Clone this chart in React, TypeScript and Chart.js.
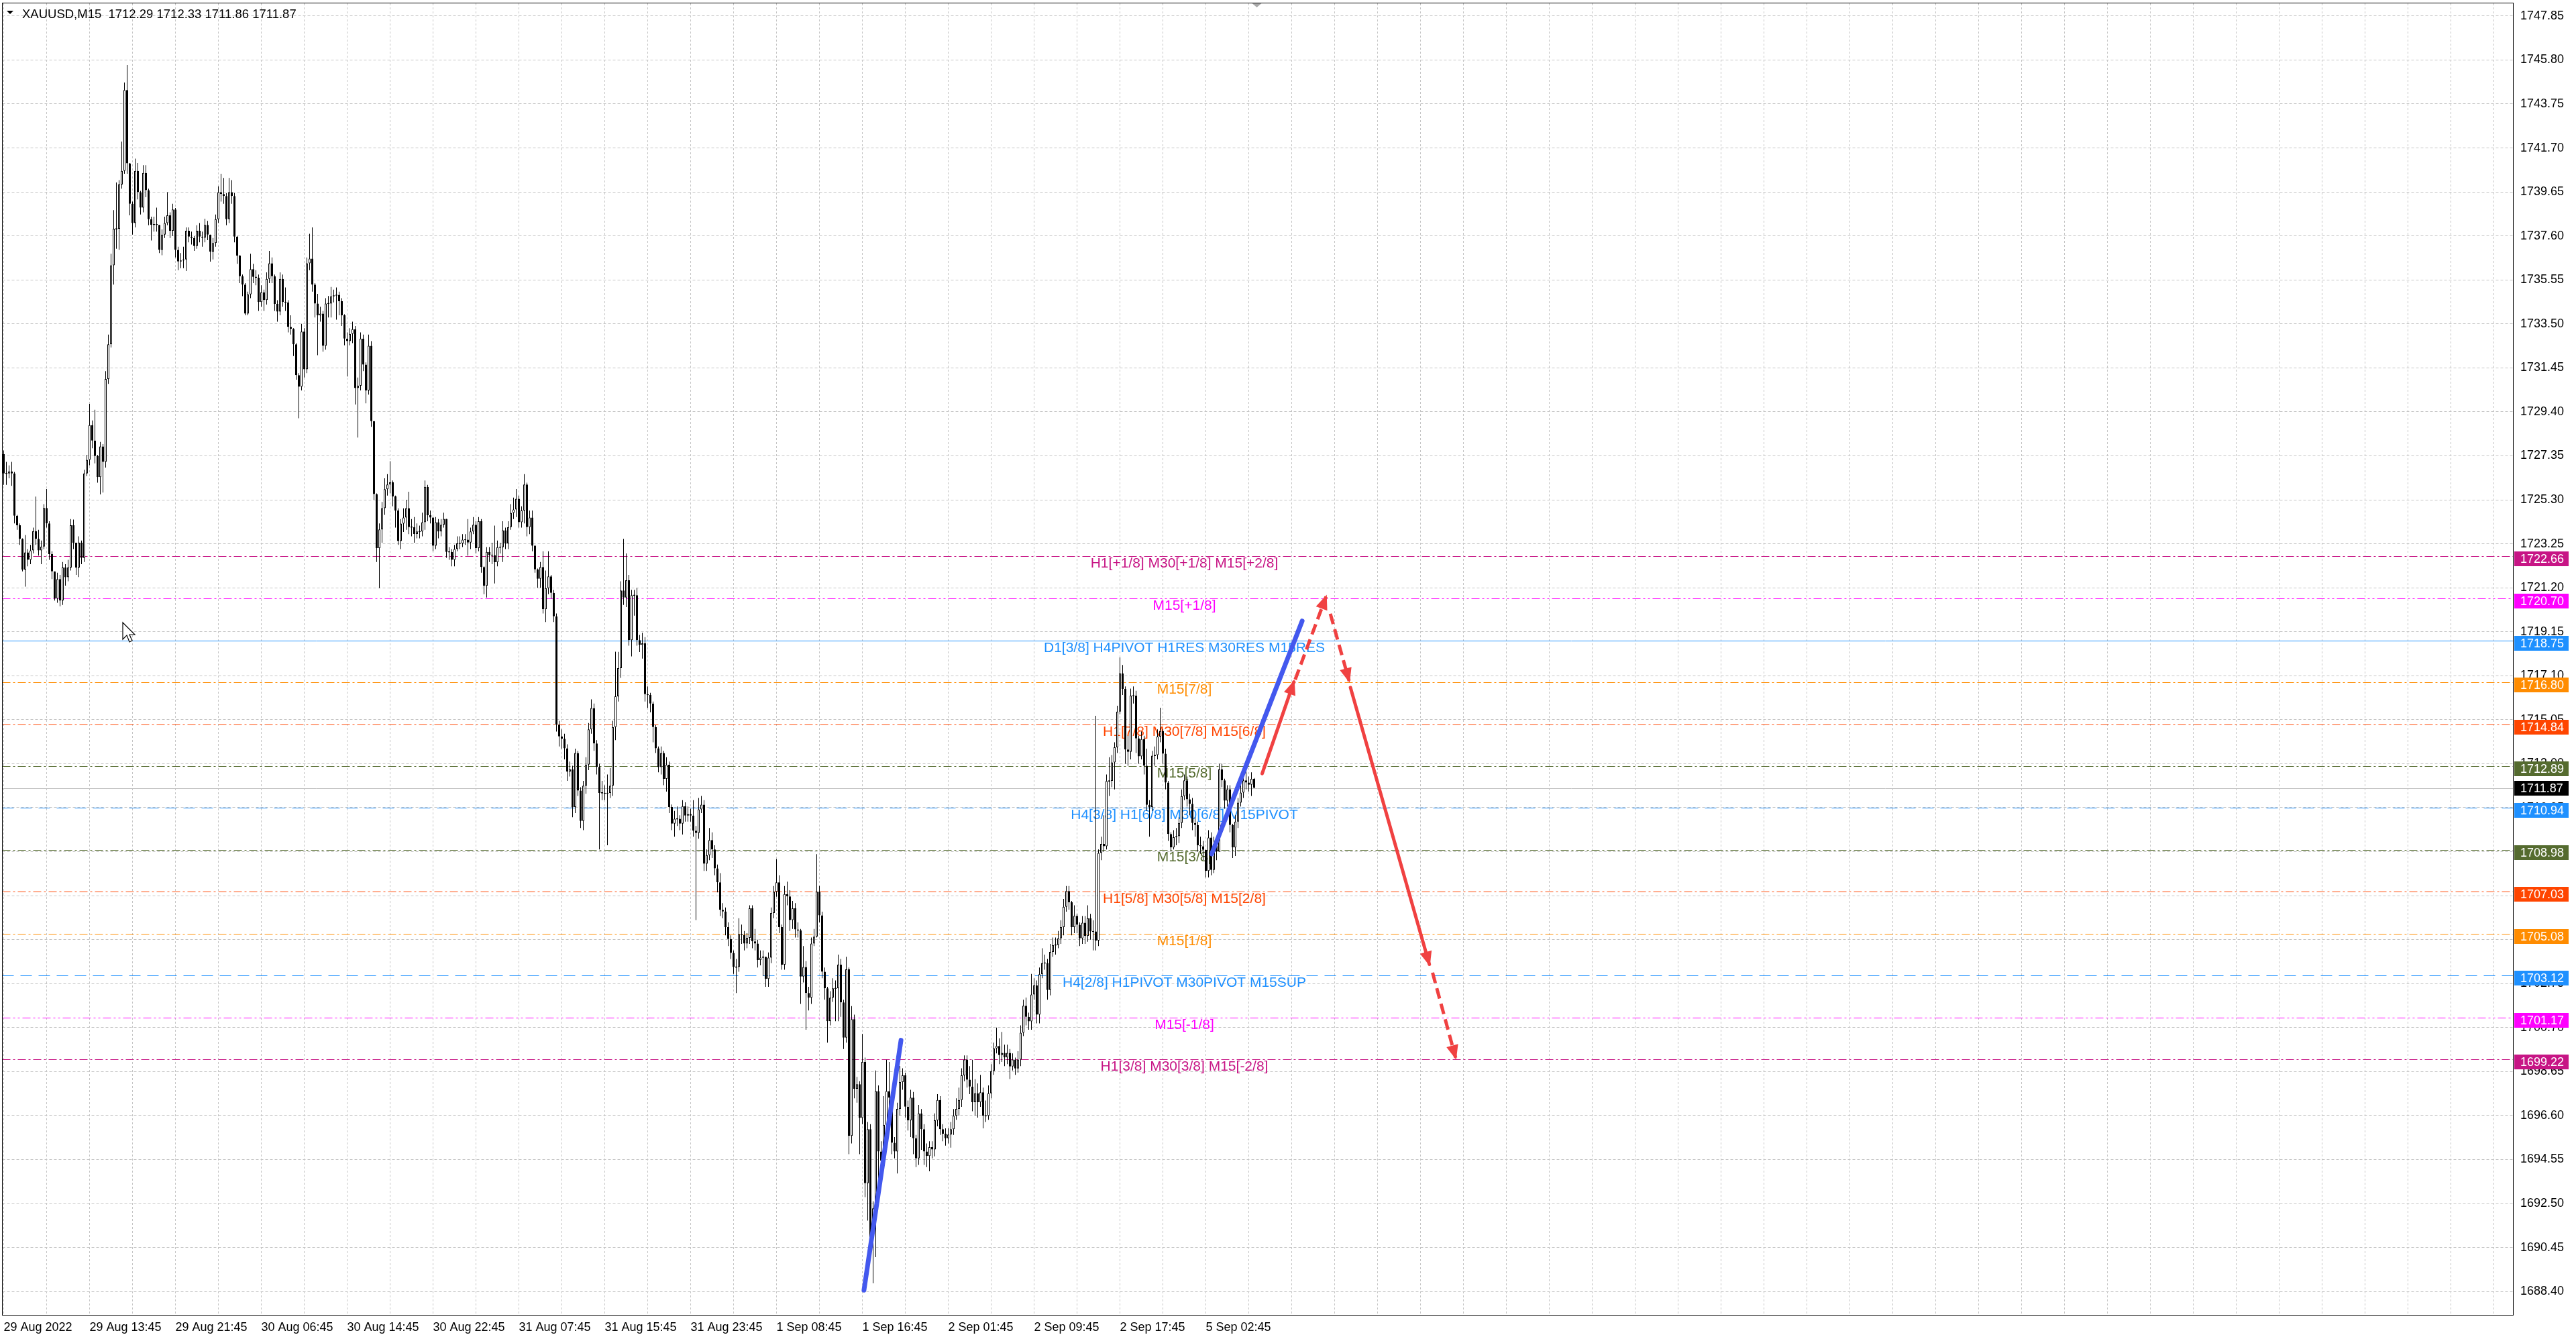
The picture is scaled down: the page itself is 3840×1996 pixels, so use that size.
import React, { useEffect, useRef } from 'react';
import { Chart, registerables } from 'chart.js';

Chart.register(...registerables);

const FONT = '"Liberation Sans", Arial, sans-serif';

// ---------- price data (XAUUSD M15) ----------
const firstOpen = 1727.43;
const closes: number[] = [
  1726.53,1726.53,1726.62,1726.53,1724.56,1724.11,1723.48,1722.05,1722.85,1722.50,
  1722.94,1723.84,1723.48,1722.94,1723.12,1724.92,1724.20,1722.77,1721.96,1720.70,
  1721.60,1720.61,1722.14,1721.69,1722.14,1724.11,1723.30,1722.14,1723.30,1722.59,
  1726.53,1727.16,1728.78,1728.06,1727.34,1726.36,1727.79,1727.07,1730.93,1732.55,
  1736.23,1737.93,1737.93,1740.00,1740.63,1744.40,1740.98,1739.10,1738.20,1740.63,
  1739.64,1738.92,1740.54,1739.73,1738.38,1738.11,1738.15,1738.11,1736.95,1737.66,
  1738.20,1738.56,1737.84,1738.83,1736.95,1736.41,1736.46,1736.50,1737.84,1737.57,
  1737.50,1737.13,1737.84,1737.57,1737.52,1738.11,1737.66,1736.86,1737.27,1738.38,
  1739.64,1739.55,1739.46,1738.38,1739.64,1739.46,1737.57,1736.68,1735.72,1735.33,
  1733.98,1734.88,1736.05,1735.69,1735.65,1734.52,1734.97,1734.61,1735.60,1736.32,
  1735.72,1734.43,1734.07,1735.60,1734.52,1734.50,1733.36,1733.27,1732.55,1731.11,
  1730.57,1733.14,1731.38,1736.32,1736.54,1735.33,1734.45,1733.90,1733.98,
  1732.48,1734.45,1734.45,1734.78,1734.83,1734.85,1734.56,1733.90,1732.81,1732.70,
  1733.03,1733.25,1730.51,1730.62,1732.81,1731.60,1730.40,1732.48,1728.97,1725.57,
  1723.05,1723.92,1724.91,1725.79,1726.01,1726.12,1725.46,1724.80,1723.38,1724.19,
  1724.47,1724.91,1724.03,1724.03,1723.71,1723.82,1723.82,1724.25,1725.90,1724.58,
  1724.47,1723.16,1724.25,1723.82,1724.14,1724.41,1722.87,1722.87,1722.50,1723.00,
  1723.27,1723.27,1723.44,1723.44,1723.31,1723.82,1724.14,1723.05,1724.30,1722.17,
  1721.29,1722.87,1722.72,1722.72,1722.39,1723.09,1723.09,1723.88,1723.27,1724.03,
  1724.69,1724.85,1725.35,1724.25,1724.80,1726.01,1724.03,1724.47,1723.16,1722.06,
  1721.62,1722.17,1720.20,1721.18,1721.73,1720.96,1719.87,1714.82,1714.27,1714.16,
  1713.72,1712.63,1712.74,1710.98,1713.50,1711.75,1710.33,1711.97,1712.96,1714.60,
  1715.59,1713.94,1712.85,1711.64,1711.64,1711.60,
  1711.64,1711.97,1714.71,1716.14,
  1717.45,1721.07,1720.74,1721.55,1718.76,1720.85,1720.85,1718.76,1718.54,1718.61,
  1716.24,1716.20,1715.80,1714.71,1713.72,1712.84,1713.50,1712.29,1712.95,1710.98,
  1710.21,1710.43,1710.43,1710.21,1711.02,1710.58,1710.65,1710.58,1709.88,1709.77,
  1710.87,1711.09,1708.34,1708.74,1709.44,1709.00,1708.12,1707.47,1706.19,1706.11,
  1705.38,1704.83,1704.18,1703.52,1703.52,1705.05,1705.01,1704.62,1704.88,1706.26,
  1704.72,1704.62,1703.85,1703.96,1704.00,1702.97,1703.96,1706.04,1707.03,1707.47,
  1705.38,1703.63,1706.92,1706.81,1705.71,1706.26,1705.27,1705.23,1703.08,1703.52,
  1702.31,1702.09,1704.62,1704.94,1707.03,1705.93,1703.30,1702.53,1701.00,1702.09,
  1702.53,1702.53,1703.63,1701.87,1700.23,1703.41,
  1695.65,1701.09,1697.85,1698.06,1696.49,1699.10,1693.45,1695.96,1690.90,1692.27,
  1697.74,1694.92,1694.50,1696.17,1697.74,1697.43,1695.33,1694.92,1696.91,1698.16,
  1698.47,1697.01,1696.38,1697.43,1695.54,1694.60,1696.70,1695.96,1694.92,1694.71,
  1695.13,1695.02,1696.38,1697.32,1695.96,1695.75,1695.54,1695.71,1695.96,1696.59,
  1696.91,1697.32,1698.47,1699.21,1698.27,1697.95,1697.22,1697.64,1697.22,1697.68,
  1696.59,1696.59,1697.64,1698.68,1699.73,1699.84,1699.42,1699.52,1699.31,1699.52,
  1698.89,1699.21,1698.79,1699.21,1700.46,1701.72,1701.20,1700.99,1702.24,1702.66,
  1701.30,1703.19,1703.71,1703.71,1702.45,1704.23,1704.55,1704.55,1704.86,1705.38,
  1706.33,1707.06,1706.54,1705.38,1705.91,1705.49,1704.86,1705.59,1704.97,1705.80,
  1705.18,1705.18,1704.76,
  1708.84,1709.26,1709.15,1712.19,1712.20,1713.06,1713.76,1715.43,1717.21,1716.48,
  1713.66,1713.55,1716.17,1716.17,1714.18,1713.34,1714.15,1712.90,1711.08,1710.97,
  1713.37,1713.40,1714.26,1714.52,1713.47,1712.12,1709.72,1709.10,1709.57,1709.62,
  1710.24,1711.49,1712.22,1711.34,1711.13,1710.24,1710.14,1709.20,1709.15,1708.99,
  1708.00,1709.56,1708.05,1709.25,1708.90,
  1712.74,1712.22,1711.28,1711.81,1710.14,1709.10,1710.30,1711.18,1711.65,1712.22,
  1712.12,1712.02,1712.29,1711.87,
];
const highs: number[] = [
  1727.60,1727.07,1726.90,1727.07,1726.60,1724.60,1724.20,1723.50,1723.66,1723.00,
  1723.20,1724.00,1725.45,1723.90,1723.40,1725.10,1725.80,1724.30,1722.90,1721.90,
  1721.90,1721.80,1722.40,1722.30,1722.50,1724.40,1724.38,1723.30,1723.60,1723.40,
  1726.70,1727.40,1729.77,1729.00,1729.50,1727.40,1728.00,1727.90,1731.30,1733.00,
  1736.77,1738.80,1740.09,1740.20,1742.00,1744.75,1745.56,1741.00,1739.20,1741.20,
  1741.00,1739.70,1740.90,1740.90,1739.80,1738.50,1738.50,1738.92,1738.10,1737.90,
  1738.50,1739.64,1738.70,1739.10,1738.90,1737.10,1736.80,1737.10,1738.00,1738.00,
  1737.80,1737.60,1738.10,1738.20,1737.80,1738.40,1738.30,1737.60,1737.50,1738.60,
  1739.91,1740.50,1740.30,1739.60,1740.30,1740.20,1739.60,1737.60,1736.70,1735.80,
  1735.40,1735.00,1736.77,1736.30,1736.00,1735.80,1735.30,1735.10,1735.90,1736.90,
  1736.60,1735.80,1734.60,1735.90,1735.80,1735.20,1734.60,1733.90,1733.30,1732.60,
  1731.20,1733.50,1733.30,1736.60,1737.70,1738.00,1735.40,1734.90,1734.30,
  1734.10,1734.70,1734.80,1735.22,1735.10,1735.20,1735.00,1734.70,1733.95,1733.10,
  1733.30,1733.60,1733.40,1731.00,1733.10,1733.00,1731.70,1733.00,1732.70,1728.90,
  1725.60,1724.20,1725.20,1726.30,1726.50,1727.10,1726.20,1725.50,1724.90,1724.40,
  1724.90,1725.30,1725.68,1724.40,1724.50,1724.20,1724.10,1724.70,1726.20,1726.00,
  1724.80,1724.50,1724.50,1724.40,1724.40,1724.70,1723.30,1723.10,1723.00,1723.20,
  1723.60,1723.60,1723.70,1723.70,1724.40,1724.00,1724.50,1724.30,1724.50,1724.40,
  1722.20,1723.10,1723.10,1723.30,1724.10,1723.40,1723.30,1724.30,1724.00,1724.30,
  1725.10,1725.40,1725.80,1725.50,1725.00,1726.50,1726.10,1724.80,1724.80,1723.20,
  1722.10,1722.40,1722.90,1722.00,1722.90,1721.80,1721.10,1720.00,1715.00,1714.60,
  1714.40,1713.90,1713.10,1712.90,1713.70,1713.60,1711.90,1712.20,1713.30,1714.90,
  1716.00,1715.80,1714.10,1713.00,1712.20,1712.00,
  1712.50,1712.80,1715.00,1718.22,
  1718.21,1721.50,1723.48,1722.80,1721.80,1721.10,1721.10,1721.20,1719.00,1719.10,
  1718.90,1716.60,1716.30,1715.90,1714.80,1713.80,1713.80,1713.60,1713.30,1713.10,
  1711.10,1710.80,1711.00,1710.60,1711.30,1711.20,1711.00,1710.90,1711.30,1710.10,
  1711.40,1711.50,1711.30,1709.00,1710.00,1709.80,1709.20,1708.30,1707.90,1706.50,
  1706.30,1705.60,1705.00,1704.30,1703.90,1705.80,1705.50,1705.20,1705.10,1706.40,
  1706.40,1705.30,1704.80,1704.30,1704.30,1703.60,1704.20,1706.30,1707.30,1708.56,
  1707.80,1705.50,1707.30,1707.50,1707.10,1706.60,1706.50,1705.60,1705.30,1704.50,
  1703.80,1702.60,1704.90,1705.30,1708.78,1707.30,1706.10,1703.50,1702.60,1702.40,
  1703.00,1702.90,1704.10,1703.90,1702.00,1704.00,
  1703.50,1701.70,1701.30,1698.40,1698.20,1700.40,1699.30,1696.30,1696.20,1692.60,
  1698.70,1698.00,1695.40,1697.50,1699.20,1699.10,1697.60,1695.60,1697.20,1698.90,
  1698.80,1698.60,1697.30,1697.80,1697.70,1695.70,1697.10,1696.90,1696.20,1695.30,
  1695.40,1695.40,1696.70,1697.60,1697.50,1696.20,1696.00,1696.00,1696.30,1696.90,
  1697.40,1697.90,1698.80,1699.40,1699.40,1698.90,1699.20,1698.30,1698.10,1698.50,
  1697.90,1697.30,1698.00,1699.00,1700.00,1700.70,1700.20,1700.50,1699.90,1699.90,
  1699.70,1699.50,1699.30,1699.60,1700.80,1702.00,1702.10,1701.40,1703.20,1703.00,
  1702.90,1703.50,1704.40,1704.10,1703.90,1704.60,1704.90,1704.90,1705.20,1705.70,
  1706.70,1707.30,1707.30,1706.60,1706.40,1706.00,1705.60,1705.90,1705.90,1706.40,
  1706.00,1705.70,1715.23,
  1709.00,1709.60,1710.60,1712.50,1713.30,1713.40,1714.00,1715.70,1717.95,1717.60,
  1716.60,1714.30,1716.50,1716.60,1716.40,1714.30,1714.50,1714.30,1713.70,1711.30,
  1713.60,1713.80,1714.60,1715.61,1714.60,1713.70,1712.20,1709.80,1709.90,1710.00,
  1710.50,1711.80,1712.50,1712.40,1711.60,1711.40,1710.50,1710.30,1709.60,1709.40,
  1708.90,1709.90,1709.80,1709.60,1709.40,
  1713.00,1713.00,1712.30,1712.00,1712.00,1710.20,1710.60,1711.40,1712.00,1712.60,
  1712.80,1712.40,1712.60,1712.33,
];
const lows: number[] = [
  1726.00,1726.00,1726.30,1725.95,1724.20,1723.90,1723.20,1721.96,1721.25,1722.20,
  1722.30,1722.80,1723.20,1722.70,1722.30,1723.00,1724.00,1722.50,1721.60,1720.60,
  1720.50,1720.34,1720.40,1721.30,1721.50,1722.00,1723.00,1721.80,1721.70,1722.30,
  1722.40,1726.40,1726.90,1727.70,1727.00,1726.10,1725.55,1725.64,1726.80,1730.70,
  1732.40,1735.33,1737.00,1736.95,1739.80,1740.50,1740.50,1738.56,1737.66,1738.00,
  1739.30,1738.60,1738.70,1739.40,1738.10,1737.39,1737.80,1737.80,1736.80,1736.70,
  1737.50,1738.10,1737.50,1737.60,1736.60,1736.00,1736.10,1736.10,1735.96,1737.30,
  1737.20,1736.90,1737.00,1737.30,1737.10,1737.30,1737.40,1736.40,1736.50,1737.10,
  1738.20,1739.20,1739.10,1738.10,1738.20,1739.10,1737.30,1736.30,1735.40,1734.79,
  1733.90,1733.90,1734.70,1735.40,1735.30,1734.10,1734.30,1734.10,1734.40,1735.40,
  1735.40,1734.10,1733.60,1733.90,1734.30,1734.10,1733.10,1733.00,1732.00,1730.90,
  1729.10,1730.40,1731.00,1731.20,1736.00,1735.00,1733.80,1732.04,1733.60,
  1732.20,1732.30,1733.80,1733.80,1734.50,1733.70,1733.90,1733.40,1732.50,1731.05,
  1732.50,1732.60,1729.74,1728.20,1730.40,1731.30,1729.80,1730.20,1728.70,1725.30,
  1722.40,1721.18,1723.30,1724.60,1725.50,1725.60,1725.00,1724.00,1723.20,1723.00,
  1723.80,1723.90,1723.70,1723.60,1723.30,1723.50,1723.50,1723.60,1723.90,1724.30,
  1724.20,1722.90,1723.00,1723.50,1723.60,1724.00,1722.60,1722.50,1722.20,1722.20,
  1722.90,1723.00,1723.10,1723.20,1722.70,1723.00,1723.70,1722.80,1722.90,1721.90,
  1720.90,1720.74,1722.40,1722.30,1721.40,1722.20,1722.80,1722.40,1723.00,1723.00,
  1723.90,1724.40,1724.50,1724.00,1724.00,1724.20,1723.60,1723.70,1722.90,1721.90,
  1721.20,1721.20,1720.00,1719.60,1720.90,1720.70,1719.60,1714.50,1713.80,1713.70,
  1713.20,1712.20,1712.40,1710.50,1710.70,1711.50,1710.00,1709.90,1711.60,1712.70,
  1714.40,1713.60,1712.50,1709.00,1711.30,1711.30,
  1709.20,1711.40,1711.50,1714.10,
  1715.90,1717.00,1720.40,1720.30,1718.50,1718.00,1719.90,1718.50,1718.20,1717.90,
  1715.90,1715.60,1715.40,1714.00,1713.50,1712.60,1712.50,1712.00,1711.70,1710.70,
  1709.90,1709.60,1710.10,1709.90,1709.70,1710.30,1710.30,1710.30,1709.60,1705.71,
  1709.50,1710.70,1708.00,1708.00,1708.50,1708.60,1707.80,1707.00,1705.90,1705.80,
  1705.00,1704.50,1703.90,1703.20,1702.31,1703.30,1704.60,1704.30,1704.40,1704.60,
  1704.40,1704.30,1703.50,1703.60,1703.10,1702.60,1702.60,1703.70,1705.80,1706.80,
  1705.10,1703.40,1703.40,1706.40,1705.20,1705.30,1704.90,1704.90,1701.80,1702.80,
  1700.60,1701.50,1701.80,1704.50,1704.90,1705.60,1703.00,1702.00,1700.00,1700.80,
  1701.90,1701.00,1701.00,1701.20,1699.70,1700.00,
  1694.80,1695.30,1697.40,1697.20,1694.80,1696.20,1692.80,1691.70,1690.30,1688.78,
  1690.00,1693.00,1693.30,1694.20,1695.90,1697.00,1694.80,1694.60,1693.90,1696.60,
  1697.80,1696.50,1695.90,1695.60,1694.80,1694.20,1694.30,1695.00,1694.30,1694.20,
  1694.00,1694.60,1694.70,1696.10,1695.70,1695.40,1695.20,1695.30,1695.10,1695.70,
  1696.40,1696.60,1697.00,1698.20,1697.90,1697.60,1696.80,1696.60,1696.50,1697.00,
  1696.00,1696.30,1696.40,1697.40,1698.50,1699.50,1699.00,1699.10,1698.90,1699.00,
  1698.30,1698.70,1698.50,1698.60,1698.90,1700.30,1700.80,1700.60,1700.60,1702.00,
  1700.90,1700.90,1703.00,1703.40,1702.00,1702.20,1704.00,1704.10,1704.40,1704.60,
  1705.00,1706.10,1706.20,1705.00,1705.10,1705.10,1704.50,1704.60,1704.60,1704.70,
  1704.80,1704.30,1704.30,
  1704.50,1708.50,1708.90,1709.00,1711.50,1711.90,1711.80,1713.50,1715.30,1716.20,
  1713.00,1712.90,1713.20,1715.80,1713.50,1713.00,1713.20,1712.50,1710.80,1709.60,
  1710.80,1712.90,1713.20,1714.00,1713.00,1711.80,1709.40,1708.90,1709.00,1709.20,
  1709.30,1710.00,1711.30,1711.00,1710.60,1709.90,1709.60,1708.90,1708.80,1708.50,
  1707.70,1707.70,1707.80,1707.90,1708.50,
  1709.00,1711.90,1710.90,1711.00,1709.80,1708.60,1708.70,1710.00,1711.00,1711.40,
  1711.80,1711.70,1711.50,1711.86,
];

// ---------- axes ----------
const timeLabels = [
  '29 Aug 2022', '29 Aug 13:45', '29 Aug 21:45', '30 Aug 06:45', '30 Aug 14:45',
  '30 Aug 22:45', '31 Aug 07:45', '31 Aug 15:45', '31 Aug 23:45', '1 Sep 08:45',
  '1 Sep 16:45', '2 Sep 01:45', '2 Sep 09:45', '2 Sep 17:45', '5 Sep 02:45',
];
const BARS_PER_LABEL = 32;
const BARS_PER_GRID = 16;
const yTickValues = [
  1747.85, 1745.80, 1743.75, 1741.70, 1739.65, 1737.60, 1735.55, 1733.50, 1731.45, 1729.40,
  1727.35, 1725.30, 1723.25, 1721.20, 1719.15, 1717.10, 1715.05, 1713.00, 1710.95, 1708.90,
  1706.85, 1704.80, 1702.75, 1700.70, 1698.65, 1696.60, 1694.55, 1692.50, 1690.45, 1688.40,
];

// ---------- Murrey / pivot levels ----------
const levelPrices = [1722.66, 1720.70, 1718.75, 1716.80, 1714.84, 1712.89, 1710.94, 1708.98, 1707.03, 1705.08, 1703.12, 1701.17, 1699.22];
const levelNames = [
  'H1[+1/8] M30[+1/8] M15[+2/8]',
  'M15[+1/8]',
  'D1[3/8] H4PIVOT H1RES M30RES M15RES',
  'M15[7/8]',
  'H1[7/8] M30[7/8] M15[6/8]',
  'M15[5/8]',
  'H4[3/8] H1[6/8] M30[6/8] M15PIVOT',
  'M15[3/8]',
  'H1[5/8] M30[5/8] M15[2/8]',
  'M15[1/8]',
  'H4[2/8] H1PIVOT M30PIVOT M15SUP',
  'M15[-1/8]',
  'H1[3/8] M30[3/8] M15[-2/8]',
];
const levelColors = ['#C71585', '#FF00FF', '#1E90FF', '#FF8C00', '#FF4500', '#556B2F', '#1E90FF', '#556B2F', '#FF4500', '#FF8C00', '#1E90FF', '#FF00FF', '#C71585'];
const DASHDOT = [12, 4, 3, 4];
const DASHDOTDOT = [12, 4, 3, 4, 3, 4];
const LONGDASH = [17, 10];
const levelDashes = [DASHDOT, DASHDOTDOT, [], DASHDOT, DASHDOT, DASHDOT, LONGDASH, DASHDOT, DASHDOT, DASHDOT, LONGDASH, DASHDOTDOT, DASHDOT];
const bidPrice = 1711.87;
const symbolTitle = 'XAUUSD,M15';
const lastBarOHLC = [1712.29, 1712.33, 1711.86, 1711.87];

// ---------- drawn objects (bar index, price) ----------
const blueTrendLines = [
  [[320.6, 1688.46], [334.4, 1700.11]],
  [[450.2, 1708.79], [483.9, 1719.65]],
];
const redArrows = [
  { from: [469.0, 1712.54], to: [480.8, 1716.81], dashed: false },
  { from: [481.3, 1716.92], to: [492.8, 1720.79], dashed: true },
  { from: [494.4, 1719.99], to: [501.4, 1716.86], dashed: true },
  { from: [501.9, 1716.55], to: [531.3, 1703.65], dashed: false },
  { from: [532.5, 1703.26], to: [541.1, 1699.29], dashed: true },
];
const LABEL_BAR = 440;
const X_MIN = -0.5;
const X_MAX = 935.125;
const Y_MIN = 1687.31;
const Y_MAX = 1748.44;

export default function App() {
  const ref = useRef<HTMLCanvasElement>(null);

  useEffect(() => {
    document.body.style.margin = '0';
    const canvas = ref.current as HTMLCanvasElement;
    const opens = closes.map((c, i) => (i === 0 ? firstOpen : closes[i - 1]));

    const wickData = closes.map((c, i) => {
      const o = opens[i];
      return { x: i, y: [Math.min(lows[i], o, c), Math.max(highs[i], o, c)] };
    });
    const bodyData = closes.map((c, i) => {
      const o = opens[i];
      let lo = Math.min(o, c);
      let hi = Math.max(o, c);
      if (hi - lo < 0.05) {
        const m = (hi + lo) / 2;
        lo = m - 0.025;
        hi = m + 0.025;
      }
      return { x: i, y: [lo, hi] };
    });
    const bodyColors = closes.map((c, i) => (c >= opens[i] ? '#FFFFFF' : '#000000'));

    const blueDatasets = blueTrendLines.map((seg) => ({
      type: 'line',
      data: seg.map(([x, y]) => ({ x, y })),
      borderColor: '#4358EE',
      borderWidth: 7,
      borderCapStyle: 'round',
      pointRadius: 0,
      order: 1,
    }));
    const redDatasets = redArrows.map((a) => ({
      type: 'line',
      data: [{ x: a.from[0], y: a.from[1] }, { x: a.to[0], y: a.to[1] }],
      borderColor: '#F04141',
      borderWidth: 5,
      borderDash: a.dashed ? [16, 8] : [],
      borderCapStyle: a.dashed ? 'butt' : 'round',
      pointRadius: 0,
      order: 1,
    }));

    const overlay = {
      id: 'mt4overlay',
      beforeDraw(chart: any) {
        const ctx = chart.ctx;
        ctx.save();
        ctx.fillStyle = '#FFFFFF';
        ctx.fillRect(0, 0, chart.width, chart.height);
        ctx.restore();
      },
      beforeDatasetsDraw(chart: any) {
        const ctx = chart.ctx;
        const xs = chart.scales.x;
        const ys = chart.scales.y;
        const area = chart.chartArea;
        ctx.save();
        // horizontal level lines (pixel-snapped, drawn through the y scale)
        ctx.lineWidth = 1;
        const hline = (p: number, col: string, dash: number[]) => {
          const y = Math.round(ys.getPixelForValue(p)) + 0.5;
          ctx.strokeStyle = col;
          ctx.setLineDash(dash);
          ctx.beginPath();
          ctx.moveTo(area.left, y);
          ctx.lineTo(area.right, y);
          ctx.stroke();
        };
        levelPrices.forEach((p, k) => hline(p, levelColors[k], levelDashes[k]));
        hline(bidPrice, '#C0C0C0', []);
        ctx.setLineDash([]);
        // level captions
        ctx.font = '21px ' + FONT;
        ctx.textAlign = 'center';
        ctx.textBaseline = 'top';
        levelPrices.forEach((p, k) => {
          ctx.fillStyle = levelColors[k];
          ctx.fillText(levelNames[k], xs.getPixelForValue(LABEL_BAR), Math.round(ys.getPixelForValue(p)) + 1);
        });
        ctx.restore();
      },
      afterDatasetsDraw(chart: any) {
        const ctx = chart.ctx;
        const xs = chart.scales.x;
        const ys = chart.scales.y;
        ctx.save();
        ctx.fillStyle = '#F04141';
        redArrows.forEach((a) => {
          const x0 = xs.getPixelForValue(a.from[0]);
          const y0 = ys.getPixelForValue(a.from[1]);
          const x1 = xs.getPixelForValue(a.to[0]);
          const y1 = ys.getPixelForValue(a.to[1]);
          const ang = Math.atan2(y1 - y0, x1 - x0);
          const len = 22;
          const hw = 9;
          const tx = x1 + Math.cos(ang) * 3;
          const ty = y1 + Math.sin(ang) * 3;
          const bx = tx - Math.cos(ang) * len;
          const by = ty - Math.sin(ang) * len;
          ctx.beginPath();
          ctx.moveTo(tx, ty);
          ctx.lineTo(bx - Math.sin(ang) * hw, by + Math.cos(ang) * hw);
          ctx.lineTo(bx + Math.sin(ang) * hw, by - Math.cos(ang) * hw);
          ctx.closePath();
          ctx.fill();
        });
        ctx.restore();
      },
      afterDraw(chart: any) {
        const ctx = chart.ctx;
        const ys = chart.scales.y;
        const xs = chart.scales.x;
        const area = chart.chartArea;
        ctx.save();
        // frame
        ctx.strokeStyle = '#000000';
        ctx.lineWidth = 1;
        ctx.strokeRect(Math.floor(area.left) + 0.5, Math.floor(area.top) - 0.5, Math.round(area.right - area.left), Math.round(area.bottom - area.top) + 1);
        // price boxes
        ctx.font = '18px ' + FONT;
        ctx.textAlign = 'left';
        ctx.textBaseline = 'middle';
        const box = (p: number, col: string, off: number) => {
          const y = Math.round(ys.getPixelForValue(p)) + off;
          ctx.fillStyle = col;
          ctx.fillRect(area.right + 2, y - 11, 81, 22);
          ctx.fillStyle = '#FFFFFF';
          ctx.fillText(p.toFixed(2), area.right + 11, y + 1);
        };
        levelPrices.forEach((p, k) => box(p, levelColors[k], 4));
        box(bidPrice, '#000000', 0);
        // header
        ctx.fillStyle = '#000000';
        ctx.beginPath();
        ctx.moveTo(10, 16);
        ctx.lineTo(20, 16);
        ctx.lineTo(15, 21);
        ctx.closePath();
        ctx.fill();
        ctx.font = '18.5px ' + FONT;
        ctx.textBaseline = 'alphabetic';
        ctx.fillText(symbolTitle + '  ' + lastBarOHLC.map((v) => v.toFixed(2)).join(' '), 33, 26.5);
        // chart shift marker
        const sx = xs.getPixelForValue(closes.length);
        ctx.fillStyle = '#A8A8A8';
        ctx.beginPath();
        ctx.moveTo(sx - 7, area.top);
        ctx.lineTo(sx + 7, area.top);
        ctx.lineTo(sx, area.top + 6);
        ctx.closePath();
        ctx.fill();
        // mouse cursor
        const cx = 183;
        const cy = 928;
        const pts = [[0, 0], [0, 25], [6, 19], [10, 29], [14, 27], [10, 18], [18, 18]];
        ctx.beginPath();
        pts.forEach(([px, py], i) => (i ? ctx.lineTo(cx + px, cy + py) : ctx.moveTo(cx + px, cy + py)));
        ctx.closePath();
        ctx.fillStyle = '#FFFFFF';
        ctx.fill();
        ctx.strokeStyle = '#000000';
        ctx.lineWidth = 1.2;
        ctx.stroke();
        ctx.restore();
      },
    };

    const xTicks: number[] = [];
    for (let v = 0; v <= X_MAX; v += BARS_PER_GRID) xTicks.push(v);

    const chart = new Chart(canvas, {
      type: 'bar',
      data: {
        datasets: [
          {
            type: 'bar',
            data: wickData,
            backgroundColor: '#000000',
            borderWidth: 0,
            barThickness: 1,
            grouped: false,
            inflateAmount: 0,
            order: 6,
          },
          {
            type: 'bar',
            data: bodyData,
            backgroundColor: bodyColors,
            borderColor: '#000000',
            borderWidth: 1,
            borderSkipped: false,
            barThickness: 3,
            grouped: false,
            inflateAmount: 0,
            order: 5,
          },
          ...blueDatasets,
          ...redDatasets,
        ] as any,
      },
      options: {
        responsive: false,
        devicePixelRatio: 1,
        animation: false,
        events: [],
        layout: { padding: { left: 3.5, top: 5, right: 0, bottom: 0 } },
        plugins: { legend: { display: false }, tooltip: { enabled: false } },
        scales: {
          x: {
            type: 'linear',
            min: X_MIN,
            max: X_MAX,
            offset: false,
            afterFit: (s: any) => { s.height = 36; s.paddingLeft = 0; s.paddingRight = 0; },
            afterBuildTicks: (s: any) => { s.ticks = xTicks.map((v) => ({ value: v })); },
            grid: { color: '#C4C4C4', drawTicks: false, offset: false },
            border: { display: false, dash: [3, 3] },
            ticks: {
              autoSkip: false,
              maxRotation: 0,
              minRotation: 0,
              align: 'start',
              padding: 8,
              color: '#000000',
              font: { family: FONT, size: 18 },
              callback: (v: any) => {
                const n = Number(v);
                const k = n / BARS_PER_LABEL;
                return Number.isInteger(k) && k < timeLabels.length ? timeLabels[k] : '';
              },
            },
          },
          y: {
            type: 'linear',
            position: 'right',
            min: Y_MIN,
            max: Y_MAX,
            beginAtZero: false,
            afterFit: (s: any) => { s.width = 94; s.paddingTop = 0; s.paddingBottom = 0; },
            afterBuildTicks: (s: any) => { s.ticks = yTickValues.map((v) => ({ value: v })); },
            grid: { color: '#C4C4C4', drawTicks: false },
            border: { display: false, dash: [4, 3] },
            ticks: {
              padding: 11,
              color: '#000000',
              font: { family: FONT, size: 18 },
              callback: (v: any) => Number(v).toFixed(2),
            },
          },
        },
      } as any,
      plugins: [overlay],
    });

    return () => chart.destroy();
  }, []);

  return (
    <div style={{ position: 'fixed', left: 0, top: 0, width: 3840, height: 1996, background: '#FFFFFF' }}>
      <canvas ref={ref} width={3840} height={1996} style={{ display: 'block', width: 3840, height: 1996 }} />
    </div>
  );
}
